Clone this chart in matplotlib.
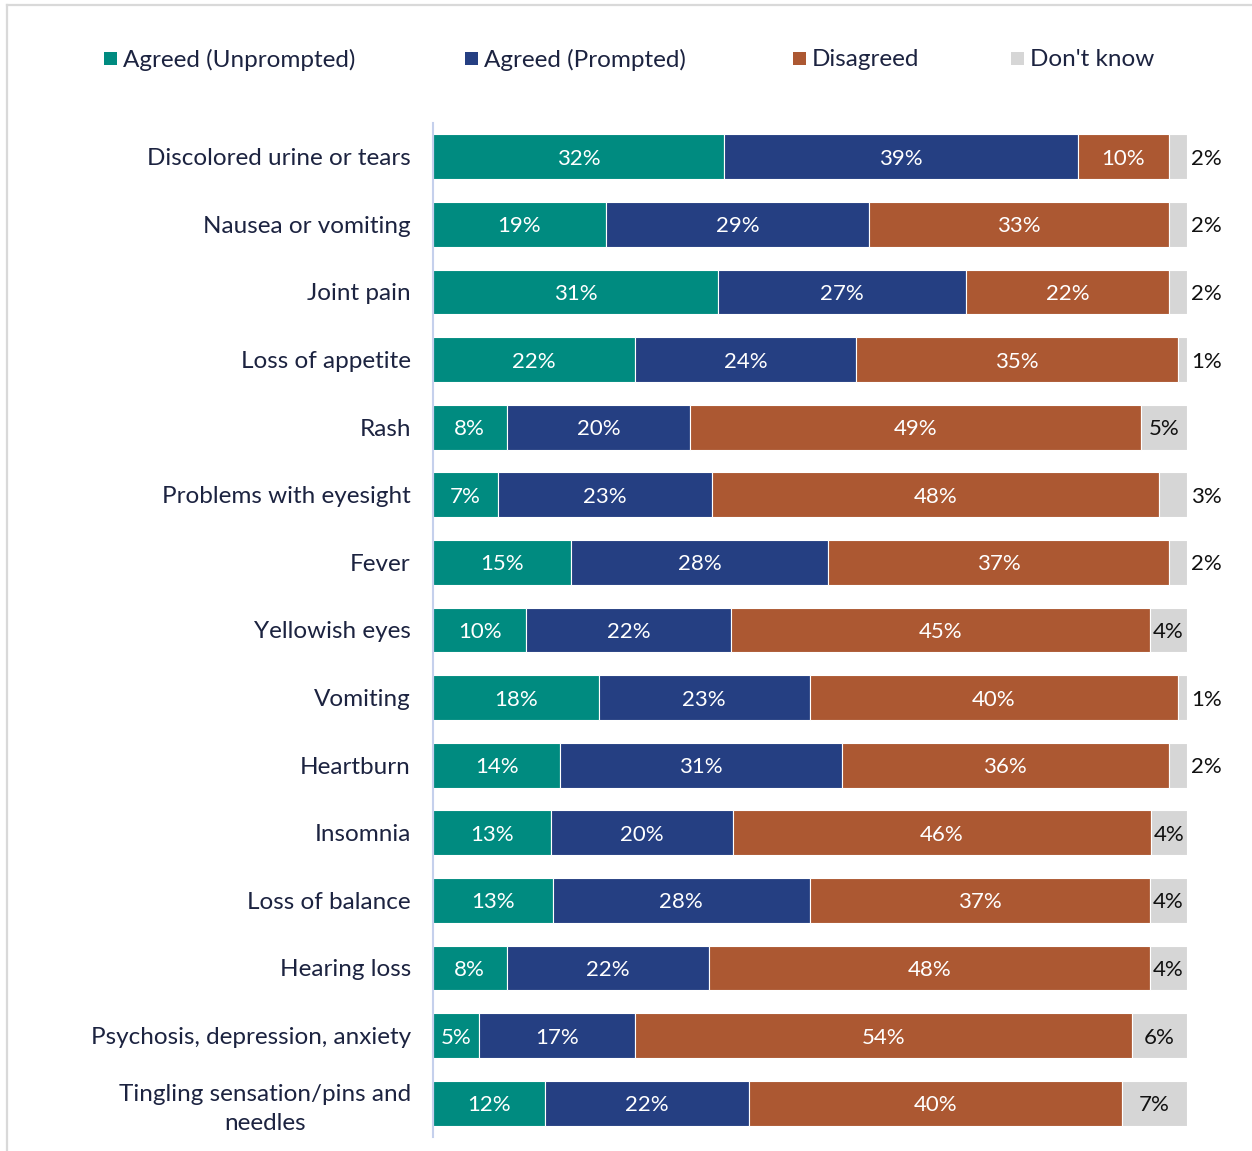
import matplotlib
matplotlib.use("Agg")
import matplotlib.pyplot as plt
from matplotlib.patches import Rectangle
from matplotlib.lines import Line2D
import numpy as np

categories = [
    "Discolored urine or tears",
    "Nausea or vomiting",
    "Joint pain",
    "Loss of appetite",
    "Rash",
    "Problems with eyesight",
    "Fever",
    "Yellowish eyes",
    "Vomiting",
    "Heartburn",
    "Insomnia",
    "Loss of balance",
    "Hearing loss",
    "Psychosis, depression, anxiety",
    "Tingling sensation/pins and\nneedles",
]

series_names = ["Agreed (Unprompted)", "Agreed (Prompted)", "Disagreed", "Don't know"]

agreed_unprompted = [32, 19, 31, 22, 8, 7, 15, 10, 18, 14, 13, 13, 8, 5, 12]
agreed_prompted = [39, 29, 27, 24, 20, 23, 28, 22, 23, 31, 20, 28, 22, 17, 22]
disagreed = [10, 33, 22, 35, 49, 48, 37, 45, 40, 36, 46, 37, 48, 54, 40]
dont_know = [2, 2, 2, 1, 5, 3, 2, 4, 1, 2, 4, 4, 4, 6, 7]

colors = ["#008B80", "#253F82", "#AC5832", "#D6D6D6"]
text_dark = "#1C2340"

plt.rcParams["font.family"] = ["Lato", "DejaVu Sans"]

W, H = 1252, 1151
fig = plt.figure(figsize=(W / 100, H / 100), dpi=100)

# frame lines along the top and left edge of the canvas
fig.add_artist(Line2D([7 / W, 1.0], [1 - 5 / H, 1 - 5 / H], color="#D9D9D9", lw=1.6,
                      transform=fig.transFigure))
fig.add_artist(Line2D([7 / W, 7 / W], [0, 1 - 5 / H], color="#D9D9D9", lw=1.6,
                      transform=fig.transFigure))

ax = fig.add_axes([433 / W, 14 / H, (1187 - 433) / W, (1137 - 123) / H])

data = np.array([agreed_unprompted, agreed_prompted, disagreed, dont_know], dtype=float)
shares = data / data.sum(axis=0)
y = np.arange(len(categories))

value_fs = 16
left = np.zeros(len(categories))
for k in range(4):
    bars = ax.barh(y, shares[k], left=left, height=0.665, color=colors[k],
                   edgecolor="white", linewidth=0.8)
    for i, b in enumerate(bars):
        v = int(data[k, i])
        cx = left[i] + shares[k, i] / 2
        if k < 3:
            ax.text(cx, y[i], f"{v}%", ha="center", va="center_baseline",
                    color="white", fontsize=value_fs)
        elif v >= 4:
            ax.text(cx, y[i], f"{v}%", ha="center", va="center_baseline",
                    color="#111111", fontsize=value_fs)
        else:
            ax.text(1.005, y[i], f"{v}%", ha="left", va="center_baseline",
                    color="#111111", fontsize=value_fs)
    left += shares[k]

ax.set_xlim(0, 1)
ax.set_ylim(len(categories) - 0.5, -0.5)
ax.set_yticks(y)
ax.set_yticklabels(categories, fontsize=17.5, color=text_dark, linespacing=1.45)
for lbl in ax.get_yticklabels():
    lbl.set_multialignment("center")
ax.tick_params(axis="y", length=0, pad=16)
ax.tick_params(axis="x", bottom=False, labelbottom=False)

for s in ["top", "right", "bottom"]:
    ax.spines[s].set_visible(False)
ax.spines["left"].set_color("#C5D0EC")
ax.spines["left"].set_linewidth(1.5)

# legend row
legend_x = [104, 465, 793, 1011]
ly = 1 - 58 / H
sq = 13
for x0, name, c in zip(legend_x, series_names, colors):
    fig.add_artist(Rectangle((x0 / W, ly - (sq / 2) / H), sq / W, sq / H,
                             facecolor=c, edgecolor="none", transform=fig.transFigure))
    fig.text((x0 + 19) / W, ly, name, ha="left", va="center_baseline", fontsize=17.5,
             color=text_dark)

fig.savefig("out.png", dpi=100)
